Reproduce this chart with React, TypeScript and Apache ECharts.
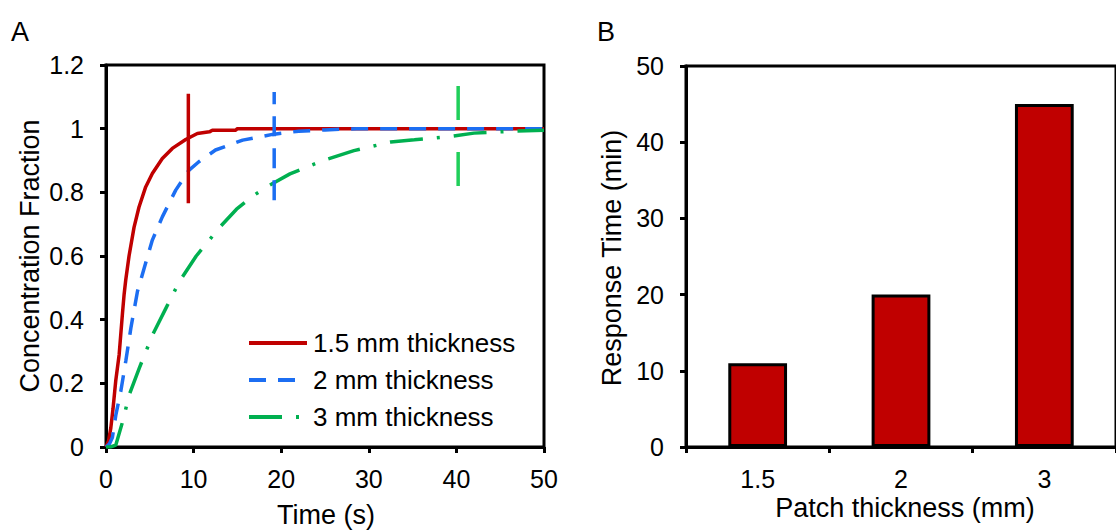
import React, { useEffect, useRef } from "react";
import * as echarts from "echarts";

// Panel A: concentration fraction vs time (s)
const tRed = [0, 0.3, 0.55, 0.8, 1.12, 1.5, 1.88, 2.07, 2.25, 2.63, 3.2, 3.77, 4.53, 5.29, 6.43, 7.57, 9.1, 10.43, 11.8, 12.14, 14.8, 15.0, 20, 30, 40, 50];
const yRed = [0, 0.02, 0.06, 0.12, 0.21, 0.29, 0.42, 0.48, 0.524, 0.6, 0.69, 0.754, 0.817, 0.859, 0.906, 0.938, 0.966, 0.985, 0.99, 0.995, 0.995, 1.0, 1.0, 1.0, 1.0, 1.0];

const tBlue = [0, 0.4, 0.73, 1.12, 1.69, 2.26, 2.84, 3.6, 4.34, 5.29, 6.43, 7.96, 9.49, 10.6, 12.5, 15.6, 19, 22, 25, 28.6, 35, 50];
const yBlue = [0, 0.01, 0.03, 0.1, 0.175, 0.27, 0.374, 0.49, 0.56, 0.65, 0.723, 0.807, 0.87, 0.896, 0.933, 0.964, 0.982, 0.992, 0.996, 1.0, 1.0, 1.0];

const tGreen = [0, 0.5, 1.12, 1.9, 2.65, 3.8, 5.33, 6.86, 8.4, 10.3, 12.97, 14.9, 16.9, 18.7, 21, 24.8, 28.3, 32.5, 35.2, 39.4, 42, 46.6, 50];
const yGreen = [0, 0, 0.006, 0.08, 0.164, 0.248, 0.353, 0.437, 0.521, 0.6, 0.69, 0.747, 0.791, 0.823, 0.858, 0.9, 0.931, 0.958, 0.965, 0.976, 0.986, 0.992, 0.995];

const seriesNames = ["1.5 mm thickness", "2 mm thickness", "3 mm thickness"];

// response-time markers (time, low, high)
const markerT = [9.4, 19.2, 40.2];
const markerLow = [0.766, 0.775, 0.82];
const markerHigh = [1.11, 1.115, 1.137];

// Panel B: response time (min) per patch thickness (mm)
const thickness = ["1.5", "2", "3"];
const responseTime = [11, 20, 45];

const FONT = "'Liberation Sans', Arial, sans-serif";
const RED = "#C00000";
const BLUE = "#1C6EF2";
const GREEN = "#00B050";
const GREEN_MARK = "#20CF5A";

const zip = (a: number[], b: number[]) => a.map((v, i) => [v, b[i]]);

export default function App() {
  const ref = useRef<HTMLDivElement>(null);
  useEffect(() => {
    document.body.style.margin = "0";
    const chart = echarts.init(ref.current!, null, { renderer: "svg" });
    const axisLine = { show: true, lineStyle: { color: "#000", width: 3 } };
    const axisTick = { show: true, inside: false, length: 6, lineStyle: { color: "#000", width: 3 } };
    const axisLabel = { color: "#000", fontSize: 25, fontFamily: FONT };
    const markerColors = [RED, BLUE, GREEN_MARK];
    const markerTypes: any[] = ["solid", [20, 12], [34, 32]];

    chart.setOption({
      animation: false,
      grid: [
        { left: 106, top: 65, width: 438, height: 382, show: true, borderColor: "#000", borderWidth: 3, backgroundColor: "transparent" },
        { left: 686, top: 66, width: 443, height: 381, show: true, borderColor: "#000", borderWidth: 3, backgroundColor: "transparent" },
      ],
      xAxis: [
        {
          gridIndex: 0, type: "value", min: 0, max: 50, interval: 10,
          axisLine, axisTick, splitLine: { show: false },
          axisLabel: { ...axisLabel, margin: 19 },
        },
        {
          gridIndex: 1, type: "category", data: thickness,
          axisLine, axisTick: { ...axisTick, alignWithLabel: false, interval: 0 }, splitLine: { show: false },
          axisLabel: { ...axisLabel, margin: 19 },
        },
      ],
      yAxis: [
        {
          gridIndex: 0, type: "value", min: 0, max: 1.2, interval: 0.2,
          axisLine, axisTick, splitLine: { show: false },
          axisLabel: { ...axisLabel, margin: 22 },
        },
        {
          gridIndex: 1, type: "value", min: 0, max: 50, interval: 10,
          axisLine, axisTick, splitLine: { show: false },
          axisLabel: { ...axisLabel, margin: 22 },
        },
      ],
      legend: {
        data: seriesNames,
        orient: "vertical",
        left: 247,
        top: 330,
        padding: 0,
        itemWidth: 58,
        itemHeight: 26,
        itemGap: 11,
        itemStyle: { opacity: 0 },
        lineStyle: { width: 4 },
        textStyle: { color: "#000", fontSize: 26, fontFamily: FONT, lineHeight: 26, padding: [0, 0, 0, 1] },
        selectedMode: false,
      },
      series: [
        {
          name: seriesNames[0], type: "line", xAxisIndex: 0, yAxisIndex: 0, data: zip(tRed, yRed),
          symbol: "none", lineStyle: { color: RED, width: 3.5 }, itemStyle: { color: RED },
        },
        {
          name: seriesNames[1], type: "line", xAxisIndex: 0, yAxisIndex: 0, data: zip(tBlue, yBlue),
          symbol: "none", lineStyle: { color: BLUE, width: 3.5, type: [17, 12] }, itemStyle: { color: BLUE },
        },
        {
          name: seriesNames[2], type: "line", xAxisIndex: 0, yAxisIndex: 0, data: zip(tGreen, yGreen),
          symbol: "none", lineStyle: { color: GREEN, width: 3.5, type: [33, 14, 3, 14] }, itemStyle: { color: GREEN },
        },
        ...markerT.map((t, i) => ({
          name: "marker" + i, type: "line", xAxisIndex: 0, yAxisIndex: 0,
          data: [[t, markerLow[i]], [t, markerHigh[i]]],
          symbol: "none", lineStyle: { color: markerColors[i], width: 3.5, type: markerTypes[i] },
        })),
        {
          name: "Response Time", type: "bar", xAxisIndex: 1, yAxisIndex: 1, data: responseTime,
          barWidth: "41%",
          itemStyle: { color: RED, borderColor: "#000", borderWidth: 3 },
        },
      ],
      graphic: [
        { type: "text", x: 20, y: 32, style: { text: "A", font: `27px ${FONT}`, fill: "#000", align: "center", verticalAlign: "middle" } },
        { type: "text", x: 606, y: 32, style: { text: "B", font: `27px ${FONT}`, fill: "#000", align: "center", verticalAlign: "middle" } },
        { type: "text", x: 30, y: 256, rotation: Math.PI / 2, style: { text: "Concentration Fraction", font: `27px ${FONT}`, fill: "#000", align: "center", verticalAlign: "middle" } },
        { type: "text", x: 326, y: 515, style: { text: "Time (s)", font: `27px ${FONT}`, fill: "#000", align: "center", verticalAlign: "middle" } },
        { type: "text", x: 612, y: 258, rotation: Math.PI / 2, style: { text: "Response Time (min)", font: `27px ${FONT}`, fill: "#000", align: "center", verticalAlign: "middle" } },
        { type: "text", x: 905, y: 508, style: { text: "Patch thickness (mm)", font: `27px ${FONT}`, fill: "#000", align: "center", verticalAlign: "middle" } },
      ],
    });
    return () => chart.dispose();
  }, []);
  return <div ref={ref} style={{ width: 1116, height: 531 }} />;
}
